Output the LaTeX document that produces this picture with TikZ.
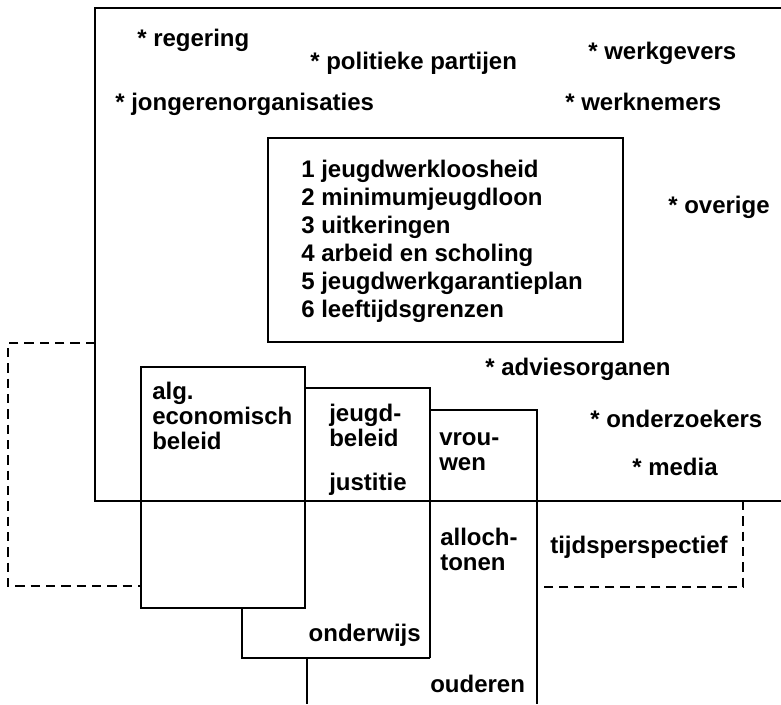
\documentclass[tikz,border=0pt]{standalone}
\usepackage{fontspec}
\setmainfont{Liberation Sans}
\usetikzlibrary{positioning}
\tikzset{
    %Define style for the labels
    actor/.style={
           anchor=base west,
           inner sep=0pt,
           font=\bfseries\fontsize{18}{18.75}\selectfont},
    field/.style={
           actor,
           align=left},
    % Define line styles
    frame/.style={
           draw=black,
           line width=1.7pt},
    loose/.style={
           draw=black,
           line width=2pt,
           dash pattern=on 7pt off 4.5pt}
}
\begin{document}
\begin{tikzpicture}[x=0.75pt,y=-0.75pt]
\useasboundingbox (0,0) rectangle (781,704);
% corners
\coordinate (o1) at (95,8);
\coordinate (o2) at (781,8);
\coordinate (o3) at (95,501);
\coordinate (o4) at (781,501);
\coordinate (d1) at (95,343);
\coordinate (d2) at (8,343);
\coordinate (d3) at (8,586);
\coordinate (a1) at (141,367);
\coordinate (a2) at (305,608);
\coordinate (j1) at (305,388);
\coordinate (j2) at (430,388);
\coordinate (v1) at (430,410);
\coordinate (v2) at (537,410);
\coordinate (v3) at (537,704);
\coordinate (w1) at (242,608);
\coordinate (w2) at (242,658);
\coordinate (w3) at (430,658);
\coordinate (u1) at (307,658);
\coordinate (u2) at (307,704);
\coordinate (t1) at (743,501);
\coordinate (t2) at (743,587);
\coordinate (t3) at (537,587);
\coordinate (i1) at (268,138);
\coordinate (i2) at (623,342);

\draw[frame] (o2) -- (o1) -- (o3) -- (o4);
\draw[frame] (i1) rectangle (i2);
\draw[frame] (a1) rectangle (a2);
\draw[frame] (j1) -- (j2) -- (w3);
\draw[frame] (v1) -- (v2) -- (v3);
\draw[frame] (w1) -- (w2) -- (w3);
\draw[frame] (u1) -- (u2);
\draw[loose] (d1) -- (d2) -- (d3) -- (a1 |- d3);
\draw[loose] (t1) -- (t2) -- (t3);

% actors
\node[actor] (reg) at (137,46) {* regering};
\node[actor] (pol) at (310,69) {* politieke partijen};
\node[actor] (wg) at (588,59) {* werkgevers};
\node[actor] (jong) at (115,110) {* jongerenorganisaties};
\node[actor] (wn) at (565,110) {* werknemers};
\node[actor] (ov) at (668,213) {* overige};
\node[actor] (adv) at (485,375) {* adviesorganen};
\node[actor] (ond) at (590,427) {* onderzoekers};
\node[actor] (med) at (632,475) {* media};

% themes (base = last line)
\node[field, font=\bfseries\fontsize{18}{21}\selectfont] (themes) at (301,317) {1 jeugdwerkloosheid\\2 minimumjeugdloon\\3 uitkeringen\\4 arbeid en scholing\\5 jeugdwerkgarantieplan\\6 leeftijdsgrenzen};

% fields
\node[field] (alg) at (152,449) {alg.\\economisch\\beleid};
\node[field] (jeugd) at (329,446) {jeugd-\\beleid};
\node[actor] (just) at (329,490) {justitie};
\node[field] (vrouw) at (439,470) {vrou-\\wen};
\node[field] (allo) at (440,570) {alloch-\\tonen};
\node[actor, anchor=base east] (onderw) at (421,641) {onderwijs};
\node[actor] (oud) at (430,692) {ouderen};
\node[actor] (tijd) at (550,553) {tijdsperspectief};
\end{tikzpicture}
\end{document}
